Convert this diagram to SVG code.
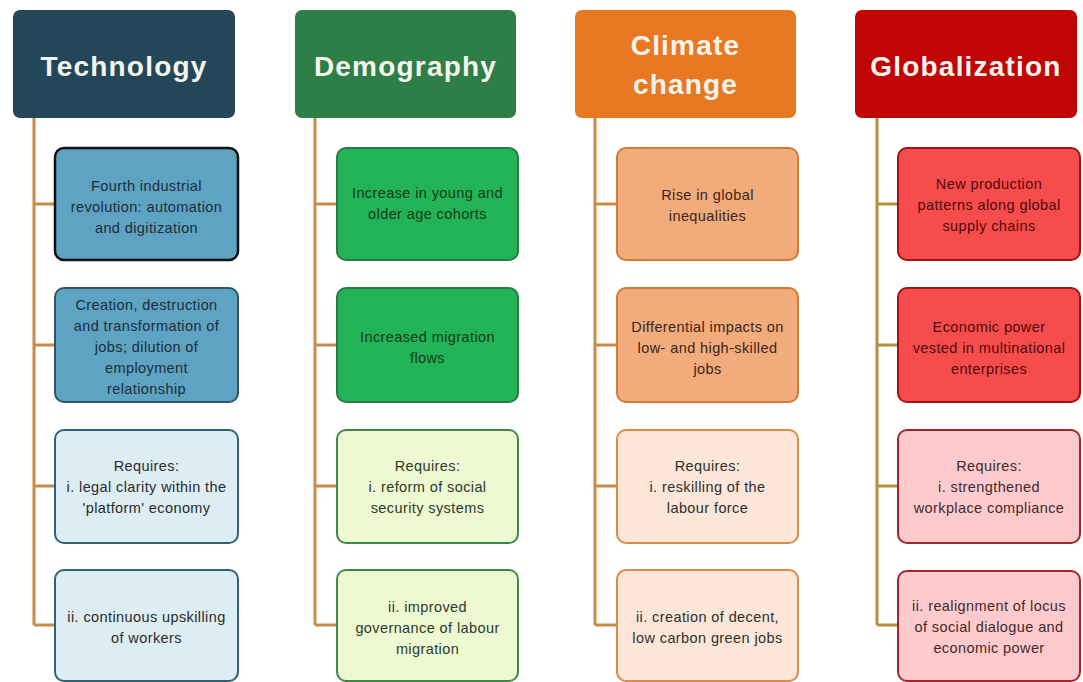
<svg xmlns="http://www.w3.org/2000/svg" width="1083" height="682" viewBox="0 0 1083 682">
<style>
.hdr{stroke:none}
.ht{font-family:"Liberation Sans",Arial,sans-serif;font-weight:bold;font-size:28px;letter-spacing:1.2px;fill:#f4f4ee;text-anchor:middle}
.bt{font-family:"Liberation Sans",Arial,sans-serif;font-size:14.5px;letter-spacing:0.4px;text-anchor:middle}
.conn{fill:none;stroke:#c98b47;stroke-width:3}
.connG{fill:none;stroke:#b98d3e;stroke-width:3}
.tA{fill:#5fa3c2;stroke:#2e5566;stroke-width:2}
.tB{fill:#dcedf4;stroke:#2f6374;stroke-width:2}
.dA{fill:#22b356;stroke:#2b7a44;stroke-width:2}
.dB{fill:#eef9d2;stroke:#3d8a48;stroke-width:2}
.cA{fill:#f2ab7a;stroke:#d27b36;stroke-width:2}
.cB{fill:#fbe6d7;stroke:#d98b48;stroke-width:2}
.gA{fill:#f64c4c;stroke:#a01414;stroke-width:2}
.gB{fill:#ffcacd;stroke:#a3262a;stroke-width:2}
.txT{fill:#1b2d3a}
.txTL{fill:#2a2a2a}
.txD{fill:#133b1c}
.txDL{fill:#2c3a2a}
.txC{fill:#3a2518}
.txCL{fill:#2f2f2f}
.txG{fill:#4e0a0a}
.txGL{fill:#3f2a2a}
</style>
<rect width="1083" height="682" fill="#ffffff"/>
<g id="connectors">
<path class="conn" d="M34 118V625M34 204H55M34 345H55M34 486H55M34 625H55"/>
<path class="conn" d="M315 118V625M315 204H337M315 345H337M315 486H337M315 625H337"/>
<path class="conn" d="M595 118V625M595 204H617M595 345H617M595 486H617M595 625H617"/>
<path class="connG" d="M877 118V625M877 204H898M877 345H898M877 486H898M877 625H898"/>
</g>
<g id="technology">
<rect class="hdr" x="13" y="10" width="222" height="108" rx="7" fill="#234758"/>
<text class="ht" x="124" y="76">Technology</text>
</g>
<g id="tech1">
<rect x="55" y="148" width="183" height="112" rx="9" fill="#5fa3c2" stroke="#111" stroke-width="2.5"/>
<text class="bt txT" x="146.5"><tspan x="146.5" y="191">Fourth industrial</tspan><tspan x="146.5" y="212">revolution: automation</tspan><tspan x="146.5" y="233">and digitization</tspan></text>
</g>
<g id="tech2">
<rect class="tA" x="55" y="288" width="183" height="114" rx="9"/>
<text class="bt txT"><tspan x="146.5" y="310">Creation, destruction</tspan><tspan x="146.5" y="331">and transformation of</tspan><tspan x="146.5" y="352">jobs; dilution of</tspan><tspan x="146.5" y="373">employment</tspan><tspan x="146.5" y="394">relationship</tspan></text>
</g>
<g id="tech3">
<rect class="tB" x="55" y="430" width="183" height="113" rx="9"/>
<text class="bt txTL"><tspan x="146.5" y="471">Requires:</tspan><tspan x="146.5" y="492">i. legal clarity within the</tspan><tspan x="146.5" y="513">'platform' economy</tspan></text>
</g>
<g id="tech4">
<rect class="tB" x="55" y="570" width="183" height="111" rx="9"/>
<text class="bt txTL"><tspan x="146.5" y="622">ii. continuous upskilling</tspan><tspan x="146.5" y="643">of workers</tspan></text>
</g>
<g id="demography">
<rect class="hdr" x="295" y="10" width="221" height="108" rx="7" fill="#2e7e47"/>
<text class="ht" x="405.5" y="76">Demography</text>
</g>
<g id="demo1">
<rect class="dA" x="337" y="148" width="181" height="112" rx="9"/>
<text class="bt txD"><tspan x="427.5" y="198">Increase in young and</tspan><tspan x="427.5" y="219">older age cohorts</tspan></text>
</g>
<g id="demo2">
<rect class="dA" x="337" y="288" width="181" height="114" rx="9"/>
<text class="bt txD"><tspan x="427.5" y="342">Increased migration</tspan><tspan x="427.5" y="363">flows</tspan></text>
</g>
<g id="demo3">
<rect class="dB" x="337" y="430" width="181" height="113" rx="9"/>
<text class="bt txDL"><tspan x="427.5" y="471">Requires:</tspan><tspan x="427.5" y="492">i. reform of social</tspan><tspan x="427.5" y="513">security systems</tspan></text>
</g>
<g id="demo4">
<rect class="dB" x="337" y="570" width="181" height="111" rx="9"/>
<text class="bt txDL"><tspan x="427.5" y="612">ii. improved</tspan><tspan x="427.5" y="633">governance of labour</tspan><tspan x="427.5" y="654">migration</tspan></text>
</g>
<g id="climate">
<rect class="hdr" x="575" y="10" width="221" height="108" rx="7" fill="#e97822"/>
<text class="ht" x="685.5"><tspan x="685.5" y="55">Climate</tspan><tspan x="685.5" y="94">change</tspan></text>
</g>
<g id="clim1">
<rect class="cA" x="617" y="148" width="181" height="112" rx="9"/>
<text class="bt txC"><tspan x="707.5" y="200">Rise in global</tspan><tspan x="707.5" y="221">inequalities</tspan></text>
</g>
<g id="clim2">
<rect class="cA" x="617" y="288" width="181" height="114" rx="9"/>
<text class="bt txC"><tspan x="707.5" y="332">Differential impacts on</tspan><tspan x="707.5" y="353">low- and high-skilled</tspan><tspan x="707.5" y="374">jobs</tspan></text>
</g>
<g id="clim3">
<rect class="cB" x="617" y="430" width="181" height="113" rx="9"/>
<text class="bt txCL"><tspan x="707.5" y="471">Requires:</tspan><tspan x="707.5" y="492">i. reskilling of the</tspan><tspan x="707.5" y="513">labour force</tspan></text>
</g>
<g id="clim4">
<rect class="cB" x="617" y="570" width="181" height="111" rx="9"/>
<text class="bt txCL"><tspan x="707.5" y="622">ii. creation of decent,</tspan><tspan x="707.5" y="643">low carbon green jobs</tspan></text>
</g>
<g id="globalization">
<rect class="hdr" x="855" y="10" width="222" height="108" rx="7" fill="#c10404"/>
<text class="ht" x="966" y="76">Globalization</text>
</g>
<g id="glob1">
<rect class="gA" x="898" y="148" width="182" height="112" rx="9"/>
<text class="bt txG"><tspan x="989" y="189">New production</tspan><tspan x="989" y="210">patterns along global</tspan><tspan x="989" y="231">supply chains</tspan></text>
</g>
<g id="glob2">
<rect class="gA" x="898" y="288" width="182" height="114" rx="9"/>
<text class="bt txG"><tspan x="989" y="332">Economic power</tspan><tspan x="989" y="353">vested in multinational</tspan><tspan x="989" y="374">enterprises</tspan></text>
</g>
<g id="glob3">
<rect class="gB" x="898" y="430" width="182" height="113" rx="9"/>
<text class="bt txGL"><tspan x="989" y="471">Requires:</tspan><tspan x="989" y="492">i. strengthened</tspan><tspan x="989" y="513">workplace compliance</tspan></text>
</g>
<g id="glob4">
<rect class="gB" x="898" y="571" width="182" height="110" rx="9"/>
<text class="bt txGL"><tspan x="989" y="611">ii. realignment of locus</tspan><tspan x="989" y="632">of social dialogue and</tspan><tspan x="989" y="653">economic power</tspan></text>
</g>
</svg>
